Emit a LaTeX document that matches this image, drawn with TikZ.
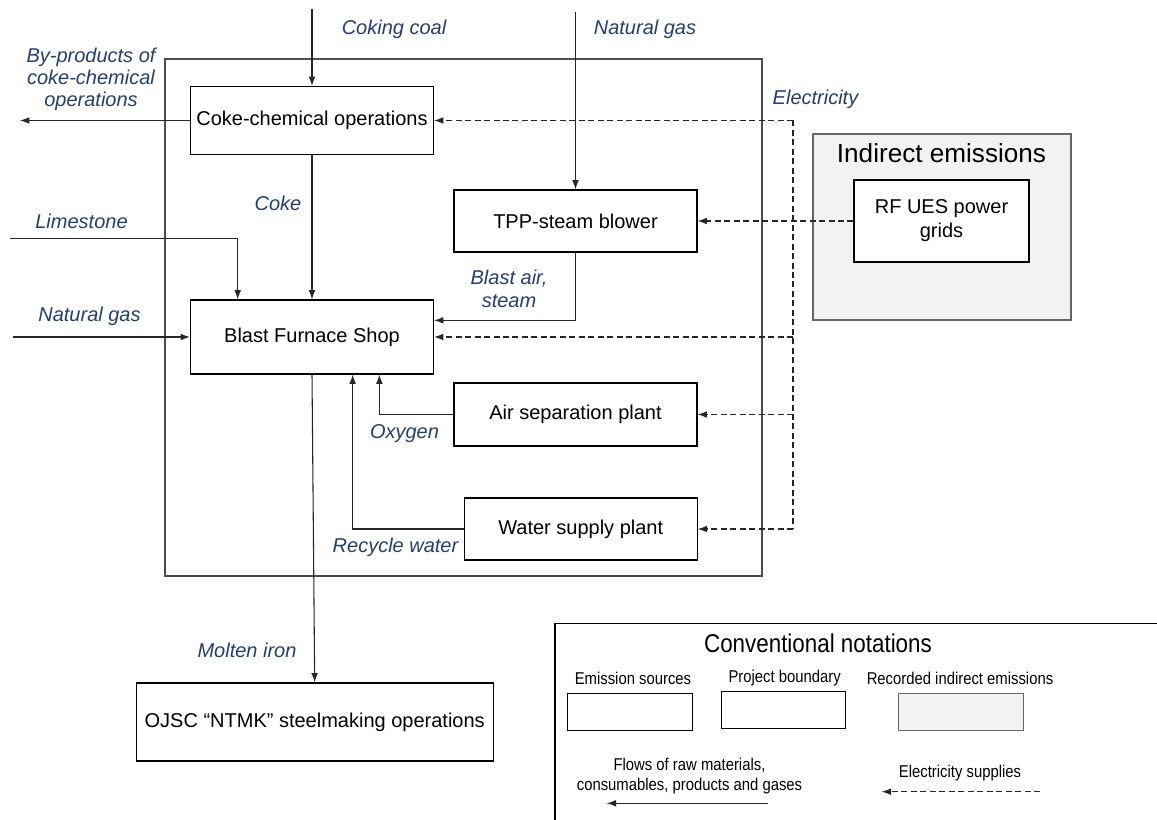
\documentclass[tikz,border=0pt]{standalone}
\usepackage{fontspec}
\setmainfont{Liberation Sans}
\newfontfamily\narrowfont[FakeStretch=0.87]{Liberation Sans}
\usetikzlibrary{arrows.meta,calc}
\definecolor{lbl}{HTML}{243F6E}
\definecolor{ln}{HTML}{262626}
\definecolor{shade}{HTML}{F2F2F2}
\tikzset{
  box/.style={draw=black,line width=0.8pt,fill=white,inner sep=0pt,align=center,font=\fontsize{15}{18}\selectfont},
  flow/.style={draw=ln,line width=0.8pt,-{Latex[length=7pt,width=5pt]}},
  elec/.style={draw=ln,line width=0.8pt,dash pattern=on 4.5pt off 2.6pt,-{Latex[length=7pt,width=5pt]}},
  lab/.style={text=lbl,font=\fontsize{15}{16.5}\selectfont\itshape,align=center,inner sep=0pt},
  legtxt/.style={font=\narrowfont\fontsize{12.8}{15}\selectfont,align=center,inner sep=0pt}
}
\begin{document}
\begin{tikzpicture}[x=0.75pt,y=-0.75pt]
\useasboundingbox (0,0) rectangle (1157,820);
\fill[white] (0,0) rectangle (1157,820);
% project boundary
\draw[draw=black!70,line width=1pt] (165,59) rectangle (762,576);
% indirect emissions
\node[draw=black!60,fill=shade,line width=0.8pt,minimum width=258*0.75pt,minimum height=186*0.75pt,inner sep=0pt] (ind) at (942,227) {};
\node[font=\fontsize{19.6}{22}\selectfont,inner sep=0pt] (indt) at (941.5,152.7) {Indirect emissions};
% process boxes
\node[box,minimum width=243*0.75pt,minimum height=68*0.75pt] (coke) at (312,120.5) {Coke-chemical operations};
\node[box,minimum width=243*0.75pt,minimum height=62*0.75pt] (tpp) at (575.5,221) {TPP-steam blower};
\node[box,minimum width=175*0.75pt,minimum height=82*0.75pt] (rf) at (941.5,221) {RF UES power\\grids};
\node[box,minimum width=243*0.75pt,minimum height=74*0.75pt] (bfs) at (312,337) {Blast Furnace Shop};
\node[box,minimum width=243*0.75pt,minimum height=63*0.75pt] (asp) at (575.5,414.5) {Air separation plant};
\node[box,minimum width=233*0.75pt,minimum height=62*0.75pt] (wsp) at (580.7,529) {Water supply plant};
\node[box,minimum width=357*0.75pt,minimum height=78*0.75pt] (ojsc) at (314.7,722) {OJSC “NTMK” steelmaking operations};
% free ends
\coordinate (coalS) at (312,9);
\coordinate (ngTop) at (575.5,12);
\coordinate (bpE) at (20,120.5);
\coordinate (limS) at (10,238.7);
\coordinate (limX) at (237.7,238.7);
\coordinate (ngL) at (13,337);
\coordinate (eTop) at (793,120.5);
\coordinate (eBot) at (793,529);
% material flows
\draw[flow] (coalS) -- (coke.north);
\draw[flow] (ngTop) -- (tpp.north);
\draw[flow] (coke.west) -- (bpE);
\draw[flow] (coke.south) -- (bfs.north);
\draw[flow] (limS) -| (limX |- bfs.north);
\draw[flow] (ngL) -- (bfs.west);
\draw[flow] (tpp.south) |- ([yshift=12.5pt]bfs.east);
\draw[flow] (asp.west) -| ([xshift=50.5pt]bfs.south);
\draw[flow] (wsp.west) -| ([xshift=30.5pt]bfs.south);
\draw[flow] (bfs.south) -- (ojsc.north);
% electricity
\draw[draw=ln,line width=0.8pt,dash pattern=on 4.5pt off 2.6pt] (eTop) -- (eBot);
\draw[elec] (eTop) -- (coke.east);
\draw[elec] (eTop |- bfs.east) -- (bfs.east);
\draw[elec] (eTop |- asp.east) -- (asp.east);
\draw[elec] (eBot) -- (wsp.east);
\draw[elec] (rf.west) -- (tpp.east);
% labels
\node[lab] (lcoal) at (394,29) {Coking coal};
\node[lab] (lng1) at (645,29) {Natural gas};
\node[lab] (lel) at (815.5,99) {Electricity};
\node[lab] (lbp) at (91,79.5) {By-products of\\coke-chemical\\operations};
\node[lab] (lcoke) at (278,203) {Coke};
\node[lab] (llim) at (81.5,221.7) {Limestone};
\node[lab] (lng2) at (89.5,316.7) {Natural gas};
\node[lab,font=\fontsize{15}{17.3}\selectfont\itshape] (lair) at (509,289) {Blast air,\\steam};
\node[lab] (lox) at (404.5,434) {Oxygen};
\node[lab] (lrw) at (395.5,547.7) {Recycle water};
\node[lab] (lmi) at (247,650) {Molten iron};
% legend
\begin{scope}
\clip (0,0) rectangle (1157,820);
\draw[draw=black,line width=0.8pt] (555,623.3) rectangle (1170,830);
\end{scope}
\node[font=\narrowfont\fontsize{19.3}{22}\selectfont,inner sep=0pt] (legt) at (818,643) {Conventional notations};
\node[legtxt] (lg1) at (633,678.3) {Emission sources};
\node[legtxt] (lg2) at (784.7,678.3) {Project boundary};
\node[legtxt] (lg3) at (960,678.3) {Recorded indirect emissions};
\node[draw=black,line width=0.7pt,minimum width=125*0.75pt,minimum height=37*0.75pt,inner sep=0pt] (lb1) at (629.8,711.8) {};
\node[draw=black,line width=0.7pt,minimum width=124.3*0.75pt,minimum height=36.6*0.75pt,inner sep=0pt] (lb2) at (783.8,710) {};
\node[draw=black!60,fill=shade,line width=0.7pt,minimum width=124.6*0.75pt,minimum height=37*0.75pt,inner sep=0pt] (lb3) at (961,711.8) {};
\node[legtxt] (lg4) at (689.5,775.7) {Flows of raw materials,\\consumables, products and gases};
\node[legtxt] (lg5) at (960,773.3) {Electricity supplies};
\coordinate (lfA) at (768.3,803.3);
\coordinate (lfB) at (606.7,803.3);
\coordinate (leA) at (1040,791.7);
\coordinate (leB) at (881.7,791.7);
\draw[flow] (lfA) -- (lfB);
\draw[elec] (leA) -- (leB);
\end{tikzpicture}
\end{document}
